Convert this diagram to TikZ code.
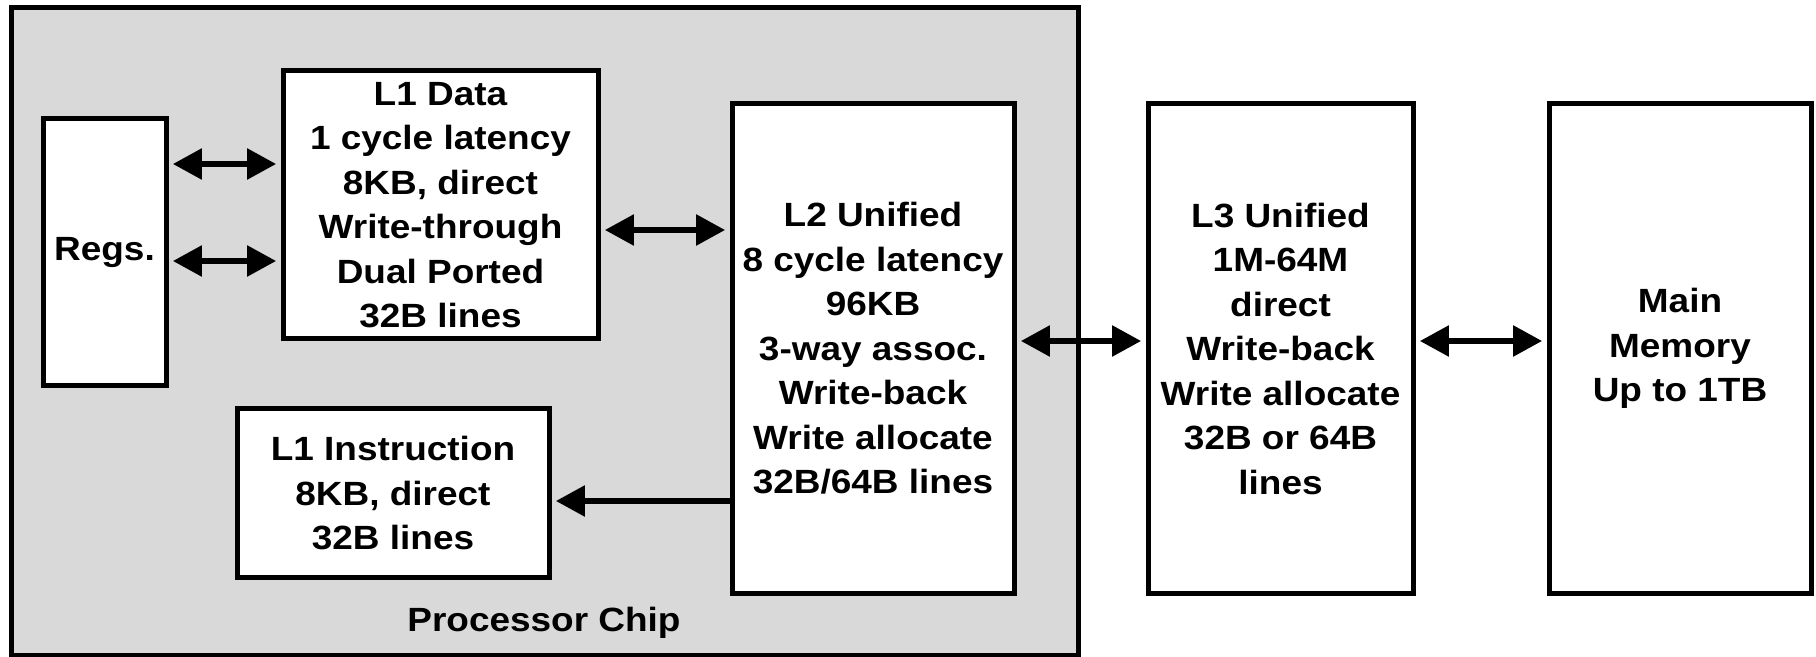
\documentclass[tikz,border=0pt]{standalone}
\usepackage{fontspec}
\setmainfont{Liberation Sans}[FakeStretch=1.1]
\usetikzlibrary{arrows.meta}
\definecolor{chipgray}{RGB}{217,217,217}
\tikzset{
  unit/.style={draw, line width=2.5pt, fill=white, inner sep=0pt, align=center,
    font=\bfseries\fontsize{16.8}{22.25}\selectfont},
  chipbox/.style={draw, line width=2.5pt, fill=chipgray, inner sep=0pt},
  label/.style={inner sep=0pt, font=\bfseries\fontsize{16.8}{22.25}\selectfont},
  head/.style={Triangle[length=14.5pt,width=15pt]},
  link/.style={line width=2.8pt, {Triangle[length=14.5pt,width=15pt]}-{Triangle[length=14.5pt,width=15pt]},
    shorten <=2.2pt, shorten >=2.2pt},
  feed/.style={line width=2.8pt, -{Triangle[length=14.5pt,width=15pt]}, shorten >=2.2pt},
}
\begin{document}
\begin{tikzpicture}[x=0.5pt,y=-0.5pt]
\useasboundingbox (0,0) rectangle (1816,657);
% processor chip outline
\node[chipbox, minimum width=533.25pt, minimum height=323.75pt] (chip) at (544.75,331.25) {};
\node[label] (chiplabel) at (544,623) {Processor Chip};
% storage levels
\node[unit, minimum width=61.5pt, minimum height=133.5pt] (regs) at (104.5,252.5) {Regs.};
\node[unit, minimum width=157.5pt, minimum height=134pt] (l1d) at (440.5,205)
  {L1 Data\\1 cycle latency\\8KB, direct\\Write-through\\Dual Ported\\32B lines};
\node[unit, minimum width=156pt, minimum height=84.5pt] (l1i) at (393,493.5)
  {L1 Instruction\\8KB, direct\\32B lines};
\node[unit, minimum width=141pt, minimum height=244.5pt] (l2) at (873,348.5)
  {L2 Unified\\8 cycle latency\\96KB\\3-way assoc.\\Write-back\\Write allocate\\32B/64B lines};
\node[unit, minimum width=132.5pt, minimum height=244.5pt] (l3) at (1280.5,348.5)
  {L3 Unified\\1M-64M\\direct\\Write-back\\Write allocate\\32B or 64B\\lines};
\node[unit, minimum width=131pt, minimum height=244.5pt] (mem) at (1680,348.5)
  {Main\\Memory\\Up to 1TB};
% rows of the connectors
\coordinate (rowa) at (0,164);
\coordinate (rowb) at (0,261);
\coordinate (rowc) at (0,230);
\coordinate (rowd) at (0,341);
\coordinate (rowe) at (0,501);
% connectors
\draw[link] (regs.east |- rowa) -- (l1d.west |- rowa);
\draw[link] (regs.east |- rowb) -- (l1d.west |- rowb);
\draw[link] (l1d.east |- rowc) -- (l2.west |- rowc);
\draw[link] (l2.east |- rowd) -- (l3.west |- rowd);
\draw[link] (l3.east |- rowd) -- (mem.west |- rowd);
\draw[feed] (l2.west |- rowe) -- (l1i.east |- rowe);
\end{tikzpicture}
\end{document}
